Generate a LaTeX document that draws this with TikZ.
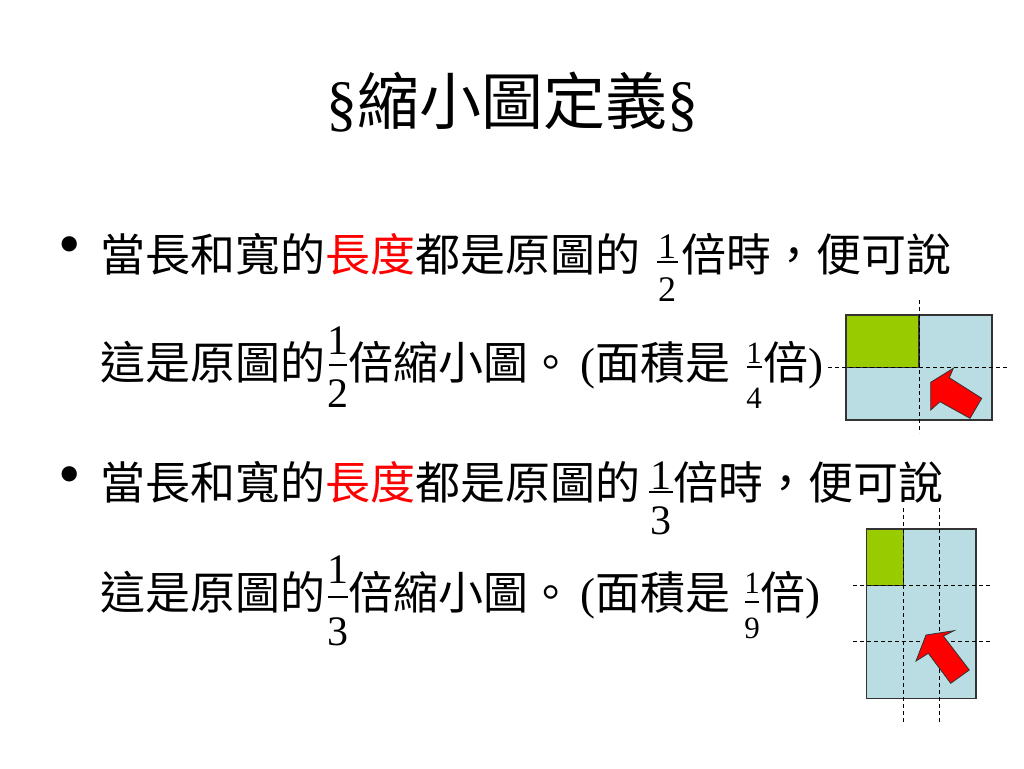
\documentclass[tikz,border=0pt]{standalone}
\usepackage{fontspec}
\setmainfont{Liberation Serif}
\newfontfamily\cjk{Noto Sans CJK TC}
\definecolor{lblue}{HTML}{B9DDE3}
\definecolor{lgreen}{HTML}{99CC00}
\definecolor{edge}{HTML}{333333}
\begin{document}
\begin{tikzpicture}[x=1pt,y=-1pt,
  body/.style={anchor=base west,inner sep=0pt,font=\fontsize{45}{54}\selectfont\cjk},
  redtxt/.style={body,text=red},
  bignum/.style={inner sep=0pt,font=\fontsize{42}{48}\selectfont},
  midnum/.style={inner sep=0pt,font=\fontsize{36}{42}\selectfont},
  smallnum/.style={inner sep=0pt,font=\fontsize{31}{36}\selectfont},
  fbar/.style={line width=1.6pt},
  bulletdot/.style={inner sep=0pt,font=\fontsize{64}{70}\selectfont},
  gridline/.style={dash pattern=on 4pt off 3pt,line width=1pt},
  box/.style={draw=edge,line width=1.3pt},
  redarrow/.style={fill=red,draw=edge,line width=0.8pt,line join=miter}]
\useasboundingbox (0,0) rectangle (1024,768);
% title
\node[anchor=base,inner sep=0pt] (title) at (512,124)
  {\fontsize{62}{70}\selectfont §{\cjk 縮小圖定義}§};
% line 1
\node[bulletdot] (b1) at (70,251) {•};
\node[body] (l1a) at (100,271) {當長和寬的};
\node[redtxt] (l1b) at (325,271) {長度};
\node[body] (l1c) at (415,271) {都是原圖的};
\node[midnum] (f1n) at (667,247) {1};
\draw[fbar] (657,262) -- (678,262);
\node[midnum] (f1d) at (667,290) {2};
\node[body] (l1d) at (681,271) {倍時，便可說};
% line 2
\node[body] (l2a) at (100,379) {這是原圖的};
\node[bignum] (f2n) at (338,341) {1};
\draw[fbar] (329,365) -- (347,365);
\node[bignum] (f2d) at (338,394) {2};
\node[body] (l2b) at (348,379) {倍縮小圖。};
\node[body] (l2c) at (580,379) {{\rmfamily(}面積是};
\node[smallnum] (f3n) at (754,353) {1};
\draw[fbar] (747,367) -- (762,367);
\node[smallnum] (f3d) at (754,398) {4};
\node[body] (l2d) at (763,379) {倍{\rmfamily)}};
% line 3
\node[bulletdot] (b2) at (70,481) {•};
\node[body] (l3a) at (100,499) {當長和寬的};
\node[redtxt] (l3b) at (325,499) {長度};
\node[body] (l3c) at (415,499) {都是原圖的};
\node[bignum] (f4n) at (661,476) {1};
\draw[fbar] (649,492) -- (673,492);
\node[bignum] (f4d) at (661,521) {3};
\node[body] (l3d) at (673,499) {倍時，便可說};
% line 4
\node[body] (l4a) at (100,609) {這是原圖的};
\node[bignum] (f5n) at (338,570) {1};
\draw[fbar] (328,597) -- (348,597);
\node[bignum] (f5d) at (338,632) {3};
\node[body] (l4b) at (348,609) {倍縮小圖。};
\node[body] (l4c) at (580,609) {{\rmfamily(}面積是};
\node[smallnum] (f6n) at (752,583) {1};
\draw[fbar] (745,602) -- (759,602);
\node[smallnum] (f6d) at (752,628) {9};
\node[body] (l4d) at (760,609) {倍{\rmfamily)}};
% figure 1
\fill[lblue] (846,315) rectangle (992,420);
\filldraw[fill=lgreen,box] (846,315) rectangle (919,367.5);
\draw[box] (846,315) rectangle (992,420);
\draw[gridline] (919,300) -- (919,433);
\draw[gridline] (828,367.5) -- (1008,367.5);
\draw[redarrow] (930.7,382.3) -- (953.3,368.3) -- (949.3,377.7) -- (981.7,398.3)
  -- (970,418.3) -- (940,401.7) -- (930.7,410) -- cycle;
% figure 2
\fill[lblue] (866.7,529) rectangle (976,698.3);
\filldraw[fill=lgreen,box] (866.7,529) rectangle (903.3,585.4);
\draw[box] (866.7,529) rectangle (976,698.3);
\draw[gridline] (903.3,508) -- (903.3,722);
\draw[gridline] (939.3,508) -- (939.3,722);
\draw[gridline] (853,585.4) -- (992,585.4);
\draw[gridline] (853,641.7) -- (992,641.7);
\draw[redarrow] (926,635) -- (954,630.7) -- (943.3,636) -- (969.3,670)
  -- (950.7,683.3) -- (928.3,653.3) -- (916,661) -- cycle;
\end{tikzpicture}
\end{document}
